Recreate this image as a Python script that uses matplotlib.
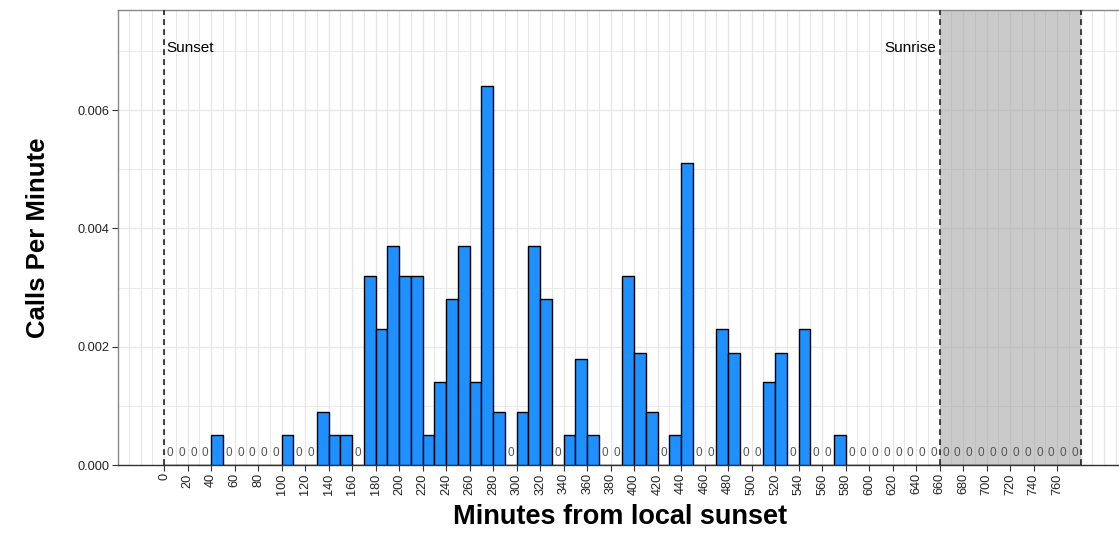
import numpy as np
import matplotlib
matplotlib.use("Agg")
import matplotlib.pyplot as plt

# --- data: 10-minute bins from local sunset ---
bin_start = list(range(0, 780, 10))
calls_per_min = [
    0, 0, 0, 0, 0.0005, 0, 0, 0, 0, 0,                       # 0-90
    0.0005, 0, 0, 0.0009, 0.0005, 0.0005, 0, 0.0032, 0.0023, 0.0037,  # 100-190
    0.0032, 0.0032, 0.0005, 0.0014, 0.0028, 0.0037, 0.0014, 0.0064, 0.0009, 0,  # 200-290
    0.0009, 0.0037, 0.0028, 0, 0.0005, 0.0018, 0.0005, 0, 0, 0.0032,  # 300-390
    0.0019, 0.0009, 0, 0.0005, 0.0051, 0, 0, 0.0023, 0.0019, 0,  # 400-490
    0, 0.0014, 0.0019, 0, 0.0023, 0, 0, 0.0005, 0, 0,         # 500-590
    0, 0, 0, 0, 0, 0, 0, 0, 0, 0,                             # 600-690
    0, 0, 0, 0, 0, 0, 0, 0,                                   # 700-770
]
sunset_min = 0
sunrise_min = 660
day_end_min = 780
x_ticks = list(range(0, 780, 20))
y_ticks = [0.0, 0.002, 0.004, 0.006]


def main():
    plt.rcParams["font.family"] = ["Liberation Sans", "DejaVu Sans"]

    fig = plt.figure(figsize=(11.19, 5.34), dpi=100)
    ax = fig.add_axes([0.1055, 0.1292, 0.898, 0.852])

    xs = np.array(bin_start)
    ys = np.array(calls_per_min)

    # grid
    for gx in range(-30, 820, 10):
        major = gx % 20 == 0
        ax.axvline(gx, color="#e6e6e6", lw=1.0 if major else 0.7, zorder=0)
    for gy in np.arange(0, 0.0078, 0.001):
        major = round(gy * 1000) % 2 == 0
        ax.axhline(gy, color="#e8e8e8", lw=1.0 if major else 0.6, zorder=0)

    # daylight shading
    ax.axvspan(sunrise_min, day_end_min, color="#a0a0a0", alpha=0.55, lw=0, zorder=1)

    # bars
    ax.bar(xs, ys, width=10, align="edge", color="#1E90FF",
           edgecolor="black", linewidth=1.0, zorder=3)

    # zero labels
    for x0, y0 in zip(xs, ys):
        if y0 == 0:
            ax.text(x0 + 5, 0.0002, "0", ha="center", va="center",
                    fontsize=8.5, color="#555555", zorder=4)

    # dashed reference lines
    for vx in (sunset_min, sunrise_min, day_end_min):
        ax.axvline(vx, color="#222222", ls=(0, (3.5, 2.5)), lw=1.2, zorder=4)

    ax.text(sunset_min + 2, 0.00704, "Sunset", ha="left", va="center",
            fontsize=11, color="black")
    ax.text(sunrise_min - 3, 0.00704, "Sunrise", ha="right", va="center",
            fontsize=11, color="black")

    ax.set_xlim(-39.2, 816)
    ax.set_ylim(0, 0.00769)

    ax.set_xticks(x_ticks)
    ax.set_xticklabels([str(t) for t in x_ticks], rotation=90, fontsize=9.2,
                       color="#222222")
    ax.set_yticks(y_ticks)
    ax.set_yticklabels([f"{t:.3f}" for t in y_ticks], fontsize=9.2,
                       color="#222222")
    ax.tick_params(axis="both", length=4, width=0.8, color="#333333", pad=2)

    for side in ("top", "left"):
        ax.spines[side].set_color("#888888")
        ax.spines[side].set_linewidth(1.0)
    ax.spines["right"].set_visible(False)
    ax.spines["bottom"].set_color("#333333")
    ax.spines["bottom"].set_linewidth(1.0)

    ax.set_xlabel("Minutes from local sunset", fontsize=19.5,
                  fontweight="bold", labelpad=7)
    ax.set_ylabel("Calls Per Minute", fontsize=18.5, fontweight="bold",
                  labelpad=20)

    fig.savefig("out.png", dpi=100)


if __name__ == "__main__":
    main()
